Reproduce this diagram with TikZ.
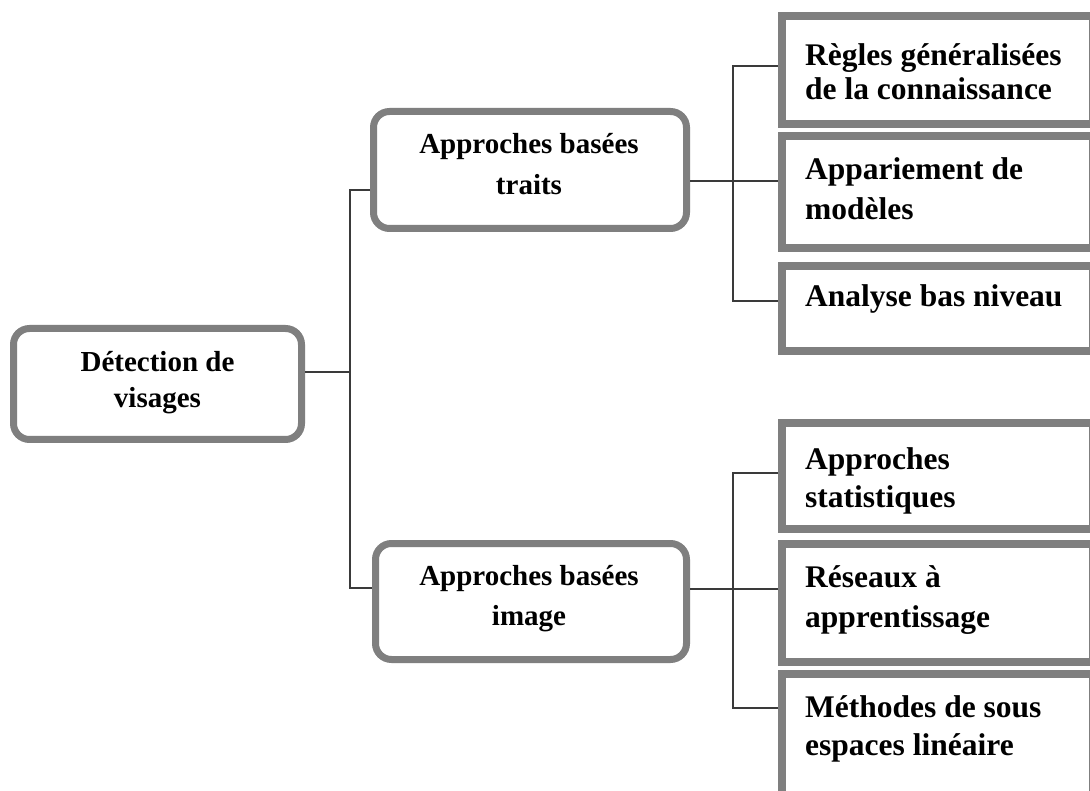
\documentclass[tikz,border=0pt]{standalone}
\usepackage{fontspec}
\setmainfont{Liberation Serif}
\definecolor{boxgray}{HTML}{7F7F7F}
\definecolor{linkgray}{HTML}{3A3A3A}
\begin{document}
\begin{tikzpicture}[x=1pt,y=-1pt,
  roundbox/.style={draw=boxgray, line width=7pt, rounded corners=16pt, fill=white, inner sep=0pt},
  flatbox/.style={draw=boxgray, line width=8pt, fill=white, inner sep=0pt},
  link/.style={draw=linkgray, line width=1.8pt},
  ctext/.style={anchor=base, inner sep=0pt, text=black},
  ltext/.style={anchor=base west, inner sep=0pt, text=black}]
\useasboundingbox (0,0) rectangle (1090,791);
\fill[white] (0,0) rectangle (1090,791);
\clip (0,0) rectangle (1090,791);

% rounded boxes: root and the two families of approaches
\node[roundbox, minimum width=288pt, minimum height=111pt] (root) at (157.5,384) {};
\node[roundbox, minimum width=313pt, minimum height=117pt] (feat) at (530,170) {};
\node[roundbox, minimum width=311pt, minimum height=116pt] (img) at (531,601.5) {};

% square boxes: feature-based methods
\node[flatbox, minimum width=311pt, minimum height=108pt] (r1) at (937,70) {};
\node[flatbox, minimum width=311pt, minimum height=112pt] (r2) at (937,192) {};
\node[flatbox, minimum width=311pt, minimum height=85pt] (r3) at (937,308.5) {};

% square boxes: image-based methods
\node[flatbox, minimum width=311pt, minimum height=105.5pt] (s1) at (937,476) {};
\node[flatbox, minimum width=311pt, minimum height=118pt] (s2) at (937,602.5) {};
\node[flatbox, minimum width=311pt, minimum height=160pt] (s3) at (937,753.5) {};

% labels
\node[ctext] (rootT) at (157.5,372) {\parbox[t]{280pt}{\centering\fontsize{29pt}{36pt}\selectfont\bfseries Détection de\\visages}};
\node[ctext] (featT) at (529,154) {\parbox[t]{300pt}{\centering\fontsize{29pt}{41pt}\selectfont\bfseries Approches basées\\traits}};
\node[ctext] (imgT) at (529,585) {\parbox[t]{300pt}{\centering\fontsize{29pt}{40pt}\selectfont\bfseries Approches basées\\image}};

\node[ltext] (r1T) at (805,66) {\parbox[t]{280pt}{\raggedright\fontsize{31.5pt}{34pt}\selectfont\bfseries Règles généralisées\\de la connaissance}};
\node[ltext] (r2T) at (805,180) {\parbox[t]{280pt}{\raggedright\fontsize{31.5pt}{40pt}\selectfont\bfseries Appariement de\\modèles}};
\node[ltext] (r3T) at (805,307) {\parbox[t]{280pt}{\raggedright\fontsize{31.5pt}{38pt}\selectfont\bfseries Analyse bas niveau}};

\node[ltext] (s1T) at (805,470) {\parbox[t]{280pt}{\raggedright\fontsize{31.5pt}{38pt}\selectfont\bfseries Approches\\statistiques}};
\node[ltext] (s2T) at (805,587) {\parbox[t]{280pt}{\raggedright\fontsize{31.5pt}{40pt}\selectfont\bfseries Réseaux à\\apprentissage}};
\node[ltext] (s3T) at (805,717) {\parbox[t]{280pt}{\raggedright\fontsize{31.5pt}{38pt}\selectfont\bfseries Méthodes de sous\\espaces linéaire}};

% junction points of the tree connectors
\coordinate (t0) at (350,372);
\coordinate (t1) at (350,190);
\coordinate (t2) at (350,588);
\coordinate (u1) at (733,66);
\coordinate (u2) at (733,181);
\coordinate (u3) at (733,301);
\coordinate (v1) at (733,473);
\coordinate (v2) at (733,589);
\coordinate (v3) at (733,708);

% connectors
\draw[link] (root.east |- t0) -- (t0);
\draw[link] (feat.west |- t1) -- (t1) -- (t2) -- (img.west |- t2);
\draw[link] (r1.west |- u1) -- (u1) -- (u3) -- (r3.west |- u3);
\draw[link] (feat.east |- u2) -- (r2.west |- u2);
\draw[link] (s1.west |- v1) -- (v1) -- (v3) -- (s3.west |- v3);
\draw[link] (img.east |- v2) -- (s2.west |- v2);
\end{tikzpicture}
\end{document}
